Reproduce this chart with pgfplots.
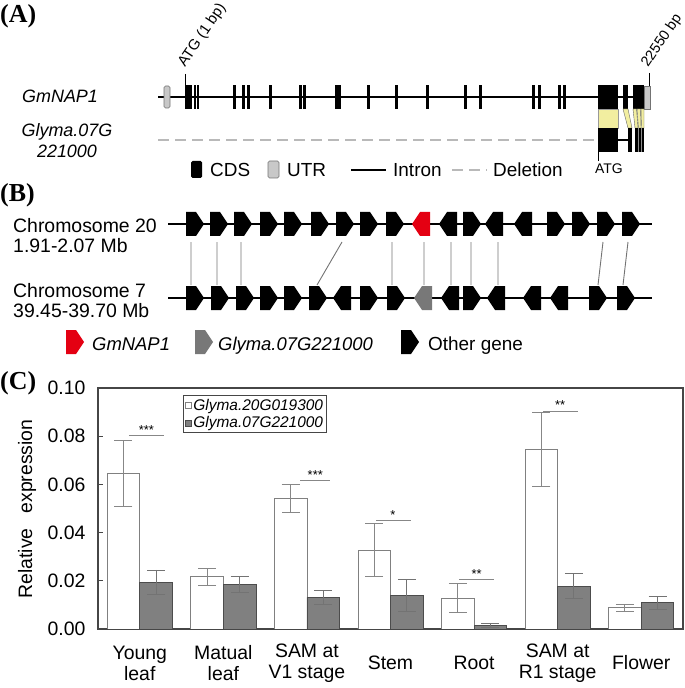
\documentclass[border=0pt]{standalone}
\usepackage{pgfplots}
\pgfplotsset{compat=1.18}
\usepackage{pgfplotstable}
\usepackage{fontspec}
\setmainfont{Liberation Sans}
\newfontfamily\tnr{Liberation Serif}
\definecolor{ygold}{RGB}{242,238,160}
\definecolor{utrgray}{RGB}{200,200,200}
\definecolor{delgray}{RGB}{185,185,185}
\definecolor{barg}{RGB}{128,128,128}
\definecolor{errg}{RGB}{135,135,135}
\definecolor{frameg}{RGB}{70,70,70}
\definecolor{genered}{RGB}{228,0,18}
\definecolor{genegray}{RGB}{120,120,120}
\newcommand\fs[1]{\fontsize{#1}{#1}\selectfont}
% gene arrows (pixel coordinates of the outer axis)
\newcommand\gR[3]{%
 \pgfmathsetmacro\ga{#1}\pgfmathsetmacro\gb{#1+10}\pgfmathsetmacro\gc{#1+18}%
 \pgfmathsetmacro\gt{#2-12}\pgfmathsetmacro\gu{#2+12}%
 \edef\gtmp{\noexpand\fill[#3] (\ga,\gt) -- (\gb,\gt) -- (\gc,#2) -- (\gb,\gu) -- (\ga,\gu) -- cycle;}\gtmp}
\newcommand\gL[3]{%
 \pgfmathsetmacro\ga{#1}\pgfmathsetmacro\gb{#1+8}\pgfmathsetmacro\gc{#1+18}%
 \pgfmathsetmacro\gt{#2-12}\pgfmathsetmacro\gu{#2+12}%
 \edef\gtmp{\noexpand\fill[#3] (\ga,#2) -- (\gb,\gt) -- (\gc,\gt) -- (\gc,\gu) -- (\gb,\gu) -- cycle;}\gtmp}
\newcommand\ex[2]{\fill (#1,85) rectangle (#2,109);}
% expression data: category position, white bar x, grey bar x, means and SD
\pgfplotstableread{
x xw xg w we g ge
0 -0.195 0.195 0.0647 0.0137 0.0195 0.0050
1 0.805 1.195 0.0217 0.0036 0.0184 0.0034
2 1.805 2.195 0.0542 0.0057 0.0131 0.0030
3 2.805 3.195 0.0326 0.0110 0.0138 0.0066
4 3.805 4.195 0.0128 0.0059 0.0014 0.0008
5 4.805 5.195 0.0744 0.0153 0.0177 0.0052
6 5.805 6.195 0.0088 0.0015 0.0109 0.0027
}\expdata
\begin{document}
\begin{tikzpicture}
\begin{axis}[at={(0,0)}, anchor=south west, scale only axis, width=685bp, height=688bp,
  xmin=0, xmax=685, ymin=0, ymax=688, y dir=reverse, hide axis, clip=false]
% panel letters
\node[anchor=north west, inner sep=0, font=\tnr\bfseries\fs{26}] at (0,4) {(A)};
\node[anchor=north west, inner sep=0, font=\tnr\bfseries\fs{26}] at (0,183) {(B)};
\node[anchor=north west, inner sep=0, font=\tnr\bfseries\fs{26}] at (0,371) {(C)};
% ---------- Panel A
\draw[line width=1.5bp] (158,97) -- (644,97);
\filldraw[fill=utrgray, draw=black!55, rounded corners=1.5bp, line width=0.6bp] (164,86) rectangle (170,108);
\ex{185}{192}\ex{193.5}{195.5}\ex{196.5}{198.5}\ex{233}{235.5}\ex{242}{244.5}\ex{247}{249.5}\ex{269}{271.5}
\ex{299}{301.5}\ex{303}{305.5}\ex{335}{337.5}\ex{338}{340.5}\ex{367}{369.5}\ex{395}{397.5}
\ex{426}{428.5}\ex{464}{467}\ex{479}{482}\ex{532}{534.5}\ex{538}{540.5}\ex{558}{560.5}\ex{563}{565.5}
\ex{598}{618}\ex{623}{628}\ex{633}{644}
\filldraw[fill=utrgray, draw=black!55, line width=0.6bp] (644,86) rectangle (650,109);
\draw[line width=0.8bp] (185,74) -- (185,85);
\draw[line width=0.8bp] (649.5,73) -- (649.5,86);
\node[rotate=56, anchor=base west, inner sep=0, font=\fs{15}] at (185,68) {ATG (1 bp)};
\node[rotate=56, anchor=base west, inner sep=0, font=\fs{14.5}] at (648,68) {22550 bp};
% lower gene
\draw[delgray, line width=2.5bp, dash pattern=on 11bp off 6bp] (158,140) -- (597,140);
\filldraw[fill=ygold, draw=black!40, line width=0.4bp] (598,109) rectangle (618,128);
\filldraw[fill=ygold, draw=black!60, line width=0.4bp] (623,109) -- (628,109) -- (632,128) -- (628,128) -- cycle;
\filldraw[fill=ygold, draw=black!60, line width=0.4bp] (633,109) -- (636.5,109) -- (638,128) -- (635,128) -- cycle;
\filldraw[fill=ygold, draw=black!60, line width=0.4bp] (637,109) -- (640.5,109) -- (641,128) -- (638.5,128) -- cycle;
\filldraw[fill=ygold, draw=black!60, line width=0.4bp] (641,109) -- (644,109) -- (644,128) -- (641.5,128) -- cycle;
\fill (598,128) rectangle (618,152);
\draw[line width=1.5bp] (618,140) -- (628,140);
\fill (628,128) rectangle (632,152);
\fill (635,128) rectangle (644,152);
\draw[black!45, line width=0.4bp] (638,128)--(638,152) (641,128)--(641,152);
\draw[line width=0.8bp] (598,152) -- (598,161);
\node[anchor=base, inner sep=0, font=\fs{14}] at (609,174) {ATG};
\node[anchor=base west, inner sep=0, font=\itshape\fs{18}] at (22,103) {GmNAP1};
\node[anchor=base, inner sep=0, font=\itshape\fs{18}] at (67,137) {Glyma.07G};
\node[anchor=base, inner sep=0, font=\itshape\fs{18}] at (67,158) {221000};
% legend A
\fill[rounded corners=1.5bp] (191,161) rectangle (202,178);
\node[anchor=base west, inner sep=0, font=\fs{19}] at (210,177) {CDS};
\filldraw[fill=utrgray, draw=black!55, rounded corners=1.5bp, line width=0.6bp] (268,161) rectangle (279,178);
\node[anchor=base west, inner sep=0, font=\fs{19}] at (287,177) {UTR};
\draw[line width=2bp] (351,170) -- (386,170);
\node[anchor=base west, inner sep=0, font=\fs{19}] at (393,177) {Intron};
\draw[delgray, line width=2.5bp, dash pattern=on 11bp off 6bp] (452,170) -- (487,170);
\node[anchor=base west, inner sep=0, font=\fs{19}] at (493,177) {Deletion};
% ---------- Panel B
\node[anchor=base west, inner sep=0, font=\fs{19.5}] at (13,232) {Chromosome 20};
\node[anchor=base west, inner sep=0, font=\fs{19.5}] at (13,252) {1.91-2.07 Mb};
\node[anchor=base west, inner sep=0, font=\fs{19.5}] at (13,297) {Chromosome 7};
\node[anchor=base west, inner sep=0, font=\fs{19.5}] at (13,317) {39.45-39.70 Mb};
\draw[line width=1.8bp] (168,224) -- (652,224);
\draw[line width=1.8bp] (168,298) -- (652,298);
\gR{186}{224}{black}\gR{210}{224}{black}\gR{234}{224}{black}\gR{260}{224}{black}
\gR{284}{224}{black}\gR{311}{224}{black}\gR{336}{224}{black}\gR{360}{224}{black}
\gR{386}{224}{black}\gL{412}{224}{genered}\gL{439}{224}{black}\gR{463}{224}{black}
\gL{485}{224}{black}\gL{514}{224}{black}\gR{547}{224}{black}\gR{572}{224}{black}
\gR{597}{224}{black}\gR{622}{224}{black}
\gR{186}{298}{black}\gR{211}{298}{black}\gR{236}{298}{black}\gR{260}{298}{black}
\gR{284}{298}{black}\gR{309}{298}{black}\gL{333}{298}{black}\gR{360}{298}{black}
\gR{387}{298}{black}\gL{414}{298}{genegray}\gL{441}{298}{black}\gR{463}{298}{black}
\gL{487}{298}{black}\gL{523}{298}{black}\gL{550}{298}{black}\gR{589}{298}{black}
\gR{617}{298}{black}
\draw[black!55, line width=0.9bp] (191,242)--(191,285) (217,242)--(217,285) (241,242)--(241,285)
  (342,242)--(317,285) (392,242)--(392,285) (424,242)--(424,285) (451,242)--(451,285)
  (471,242)--(471,285) (498,242)--(498,285) (603,242)--(598,285) (628,242)--(623,285);
% legend B
\gR{66}{342}{genered}
\node[anchor=base west, inner sep=0, font=\itshape\fs{18.5}] at (92,350) {GmNAP1};
\gR{195}{342}{genegray}
\node[anchor=base west, inner sep=0, font=\itshape\fs{18.5}] at (218,350) {Glyma.07G221000};
\gR{401}{342}{black}
\node[anchor=base west, inner sep=0, font=\fs{19}] at (428,350) {Other gene};
% ---------- Panel C y label
\node[rotate=90, inner sep=0, font=\fs{19.5}] at (27,509) {Relative\hspace{0.5em} expression};
\end{axis}
% ---------- Panel C chart
\begin{axis}[at={(98bp,59bp)}, anchor=south west, scale only axis, width=585bp, height=241bp,
  xmin=-0.5, xmax=6.5, ymin=0, ymax=0.1,
  ytick={0,0.02,0.04,0.06,0.08,0.1},
  xtick={0,1,2,3,4,5,6},
  xticklabels={Young\\leaf, Matual\\leaf, SAM at\\V1 stage, Stem, Root, SAM at\\R1 stage, Flower},
  axis line style={draw=frameg, line width=1.2bp},
  ytick pos=left, tick align=inside, major tick length=5bp,
  y tick style={draw=frameg, line width=1bp},
  x tick style={draw=none},
  yticklabel style={font=\fs{19.5}, xshift=-9bp,
    /pgf/number format/fixed, /pgf/number format/fixed zerofill,
    /pgf/number format/precision=2, /pgf/number format/assume math mode=true},
  xticklabel style={font=\fontsize{19.5}{21}\selectfont, align=center, anchor=center, yshift=-34bp},
  legend style={at={(0.145,0.971)}, anchor=north west, draw=frameg, line width=0.9bp,
    font=\itshape\fs{15.5}, inner sep=1.5bp, row sep=1bp},
  legend cell align=left,
  legend image code/.code={\draw[#1, line width=0.7bp] (0bp,-3bp) rectangle (6bp,3bp);},
]
\addplot[ybar, bar width=32.6bp, bar shift=0bp, fill=white, draw=black!50, line width=0.8bp,
  error bars/.cd, y dir=both, y explicit,
  error bar style={errg, line width=0.9bp},
  error mark options={rotate=90, mark size=9bp, errg, line width=0.9bp}]
  table[x=xw, y=w, y error=we] {\expdata};
\addlegendentry{Glyma.20G019300}
\addplot[ybar, bar width=32.6bp, bar shift=0bp, fill=barg, draw=black!70, line width=0.8bp,
  error bars/.cd, y dir=both, y explicit,
  error bar style={black!55, line width=0.9bp},
  error mark options={rotate=90, mark size=9bp, black!55, line width=0.9bp}]
  table[x=xg, y=g, y error=ge] {\expdata};
\addlegendentry{Glyma.07G221000}
% significance
\addplot[forget plot, errg, line width=1bp] coordinates {(-0.13,0.0803) (0.29,0.0803)};
\addplot[forget plot, errg, line width=1bp] coordinates {(1.92,0.0615) (2.28,0.0615)};
\addplot[forget plot, errg, line width=1bp] coordinates {(2.83,0.0450) (3.24,0.0450)};
\addplot[forget plot, errg, line width=1bp] coordinates {(3.82,0.0206) (4.24,0.0206)};
\addplot[forget plot, errg, line width=1bp] coordinates {(4.83,0.0904) (5.24,0.0904)};
\node[anchor=south, inner sep=1bp, font=\fs{13}] at (0.08,0.0803) {***};
\node[anchor=south, inner sep=1bp, font=\fs{13}] at (2.10,0.0615) {***};
\node[anchor=south, inner sep=1bp, font=\fs{13}] at (3.03,0.0450) {*};
\node[anchor=south, inner sep=1bp, font=\fs{13}] at (4.03,0.0206) {**};
\node[anchor=south, inner sep=1bp, font=\fs{13}] at (5.03,0.0904) {**};
\end{axis}
\pgfresetboundingbox
\path[use as bounding box] (0,0) rectangle (685bp,688bp);
\end{tikzpicture}
\end{document}
